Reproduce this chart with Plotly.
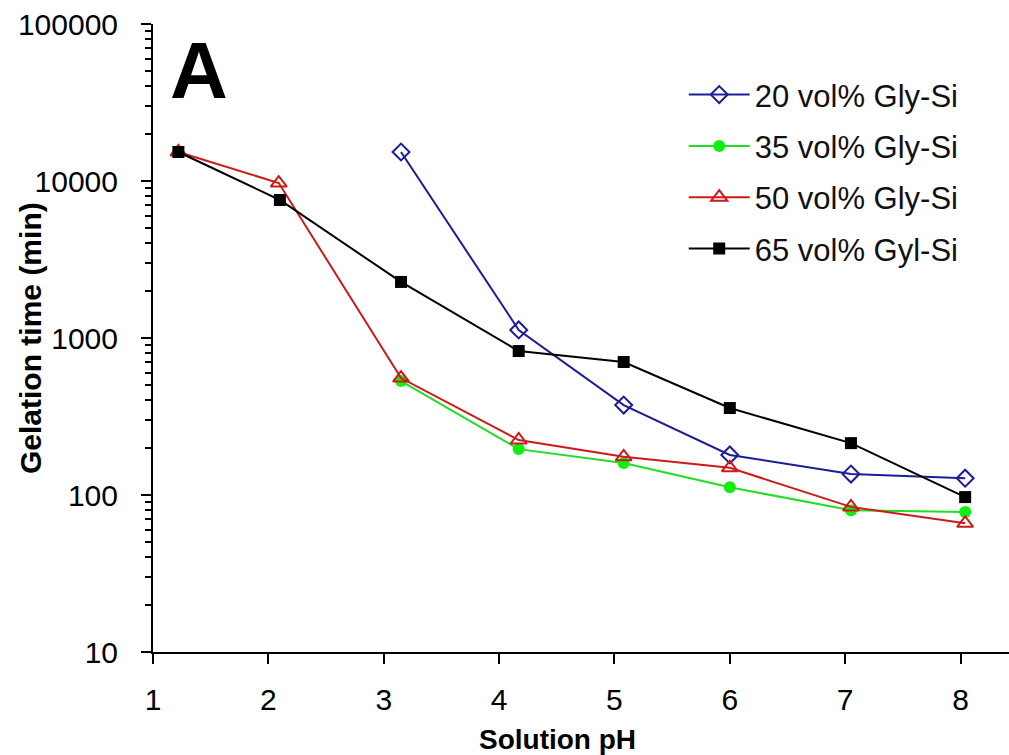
import plotly.graph_objects as go

# Data
ph_blue = [3.15, 4.17, 5.08, 6.0, 7.05, 8.04]
t_blue = [15300, 1125, 374, 180, 136, 128]

ph_green = [3.15, 4.17, 5.08, 6.0, 7.05, 8.04]
t_green = [532, 196, 160, 112, 80, 78]

ph_red = [1.22, 2.09, 3.15, 4.17, 5.08, 6.0, 7.05, 8.04]
t_red = [15300, 9700, 556, 224, 175, 149, 84, 66]

ph_black = [1.22, 2.1, 3.15, 4.17, 5.08, 6.0, 7.05, 8.04]
t_black = [15300, 7570, 2275, 826, 703, 358, 214, 97]

x_ticks = [1, 2, 3, 4, 5, 6, 7, 8]
y_ticks = [10, 100, 1000, 10000, 100000]
y_tick_labels = ["10", "100", "1000", "10000", "100000"]

FONT = "Arial, Liberation Sans, sans-serif"

fig = go.Figure()

series = [
    ("20 vol% Gly-Si", ph_blue, t_blue, "#1c1c9a",
     dict(symbol="diamond-open", size=13, line=dict(width=2, color="#1c1c9a"))),
    ("35 vol% Gly-Si", ph_green, t_green, "#22dd22",
     dict(symbol="circle", size=12, color="#11ee11", line=dict(width=0))),
    ("50 vol% Gly-Si", ph_red, t_red, "#cc1a1a",
     dict(symbol="triangle-up-open", size=14, line=dict(width=2, color="#dd1111"))),
    ("65 vol% Gyl-Si", ph_black, t_black, "#000000",
     dict(symbol="square", size=12, color="#000000", line=dict(width=0))),
]

for i, (name, xs, ys, col, mk) in enumerate(series):
    fig.add_trace(go.Scatter(
        x=xs, y=ys, name=name, mode="lines+markers",
        line=dict(color=col, width=2), marker=mk,
        legendgroup=f"g{i}", legendrank=i + 1,
    ))

fig.add_annotation(
    x=0.054, y=0.926, xref="paper", yref="paper",
    xanchor="center", yanchor="middle",
    text="<b>A</b>", showarrow=False,
    font=dict(family=FONT, size=80, color="black"),
)

# Axis titles
fig.add_annotation(
    x=0.472, y=-0.140, xref="paper", yref="paper",
    xanchor="center", yanchor="middle",
    text="<b>Solution pH</b>", showarrow=False,
    font=dict(family=FONT, size=28, color="black"),
)
fig.add_annotation(
    x=-0.1437, y=0.5, xref="paper", yref="paper",
    xanchor="center", yanchor="middle", textangle=-90,
    text="<b>Gelation time (min)</b>", showarrow=False,
    font=dict(family=FONT, size=30, color="black"),
)

fig.update_layout(
    width=1009, height=755,
    margin=dict(l=153, r=0, t=24, b=103, autoexpand=False),
    paper_bgcolor="white", plot_bgcolor="white",
    font=dict(family=FONT, size=30, color="black"),
    showlegend=True,
    legend=dict(
        x=0.62, y=0.93, xanchor="left", yanchor="top",
        font=dict(family=FONT, size=31, color="#111"),
        bgcolor="rgba(0,0,0,0)", traceorder="grouped",
        tracegroupgap=8, itemwidth=61,
    ),
    xaxis=dict(
        range=[1, 8.42], tickvals=x_ticks, ticktext=[str(v) for v in x_ticks],
        showline=True, linecolor="black", linewidth=2,
        ticks="outside", ticklen=10, tickwidth=2, tickcolor="black",
        ticklabelstandoff=10, automargin=False,
        showgrid=False, zeroline=False,
        tickfont=dict(family=FONT, size=30),
    ),
    yaxis=dict(
        type="log", range=[1, 5], tickvals=y_ticks, ticktext=y_tick_labels,
        showline=True, linecolor="black", linewidth=2,
        ticks="outside", ticklen=10, tickwidth=2, tickcolor="black",
        ticklabelstandoff=17, automargin=False,
        minor=dict(ticks="outside", ticklen=6, tickwidth=2, tickcolor="black",
                   dtick="D1", showgrid=False),
        showgrid=False, zeroline=False,
        tickfont=dict(family=FONT, size=30),
    ),
)

fig.write_html("out.html")
